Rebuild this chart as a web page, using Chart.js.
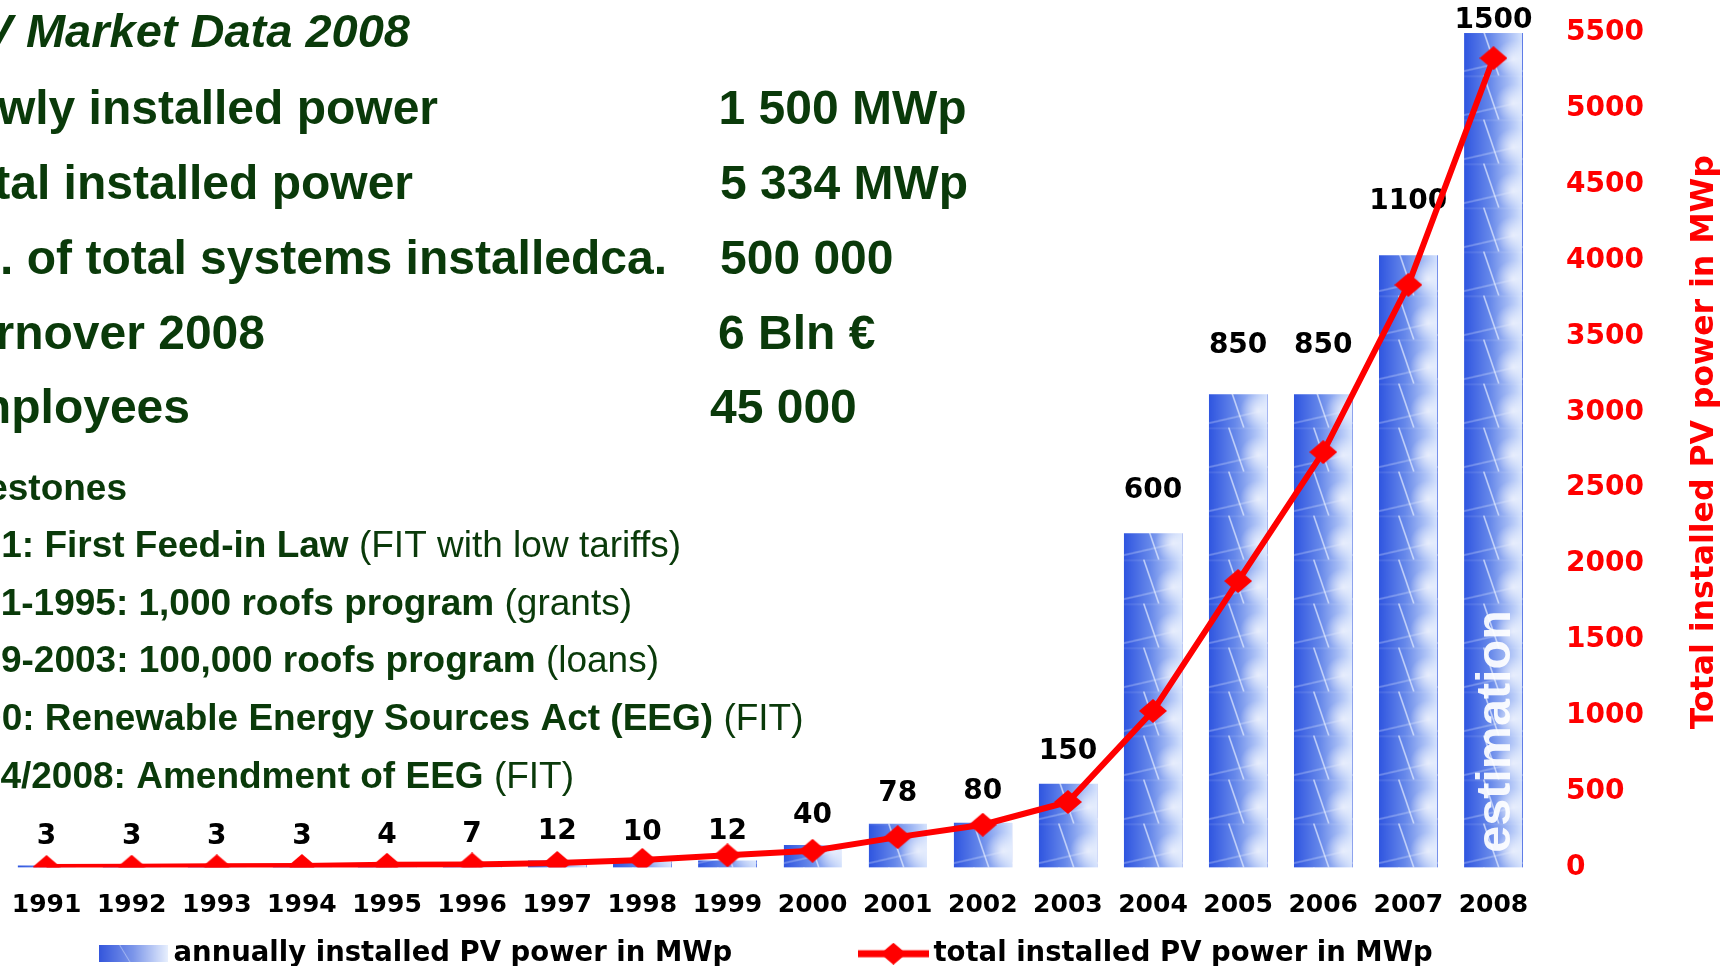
<!DOCTYPE html>
<html>
<head>
<meta charset="utf-8">
<script src="https://cdn.jsdelivr.net/npm/chart.js@4.4.1/dist/chart.umd.min.js"></script>
<style>
html,body{margin:0;padding:0;background:#ffffff;overflow:hidden}
#wrap{position:relative;width:1724px;height:966px}
canvas{display:block}
</style>
</head>
<body>
<div id="wrap"><canvas id="c" width="1724" height="966"></canvas></div>
<script>
// ---------------- data ----------------
const years = ['1991','1992','1993','1994','1995','1996','1997','1998','1999','2000','2001','2002','2003','2004','2005','2006','2007','2008'];
const annualInstalled = [3,3,3,3,4,7,12,10,12,40,78,80,150,600,850,850,1100,1500];
const totalInstalled = [3,5,8,10,18,20,30,50,80,110,200,282,432,1032,1888,2738,3840,5334];
const rightAxisTicks = [0,500,1000,1500,2000,2500,3000,3500,4000,4500,5000,5500];
const annualLabel = 'annually installed PV power in MWp';
const totalLabel = 'total installed PV power in MWp';
const rightAxisTitle = 'Total installed PV power in MWp';
const estimationText = 'estimation';

const marketTitle = 'PV Market Data 2008';
const marketLabels = ['Newly installed power','Total installed power','No. of total systems installedca.','Turnover 2008','Employees'];
const marketValues = ['1 500 MWp','5 334 MWp','500 000','6 Bln \u20AC','45 000'];
const milestoneTitle = 'Milestones';
const milestoneBold = ['1991: First Feed-in Law','1991-1995: 1,000 roofs program','1999-2003: 100,000 roofs program','2000: Renewable Energy Sources Act (EEG)','2004/2008: Amendment of EEG'];
const milestoneNote = ['(FIT with low tariffs)','(grants)','(loans)','(FIT)','(FIT)'];

// ---------------- layout / style ----------------
const GREEN = '#0a3a0a';
const RED = '#ff0000';
const TXT = {
  title: {endX: 410, y: 47},
  rowEnd: [438, 413, 667, 265, 190],
  rowY: [124, 198.5, 273.5, 348.5, 423],
  valX: [718.5, 720, 720, 718, 710],
  msTitle: {endX: 127, y: 500},
  msEnd: [681, 632, 659, 803.5, 574],
  msY: [557, 615, 672, 730, 788]
};
const BAR_W = 58;

function makeTile(w, h) {
  const c = document.createElement('canvas'); c.width = w; c.height = h;
  const g = c.getContext('2d');
  const grd = g.createLinearGradient(0, 0, w, 0);
  grd.addColorStop(0, '#2f55e0');
  grd.addColorStop(0.45, '#6688ea');
  grd.addColorStop(1, '#d4e2fd');
  g.fillStyle = grd; g.fillRect(0, 0, w, h);
  const r = g.createRadialGradient(w * 0.85, h * 0.62, 1, w * 0.85, h * 0.62, w * 0.32);
  r.addColorStop(0, 'rgba(255,255,255,0.65)'); r.addColorStop(1, 'rgba(255,255,255,0)');
  g.fillStyle = r; g.fillRect(0, 0, w, h);
  g.strokeStyle = 'rgba(232,240,255,0.7)'; g.lineWidth = 1.6;
  g.beginPath(); g.moveTo(w * 0.34, 0); g.lineTo(w * 0.6, h); g.stroke();
  g.strokeStyle = 'rgba(232,240,255,0.45)'; g.lineWidth = 1.2;
  g.beginPath(); g.moveTo(0, h * 0.9); g.lineTo(w, h * 0.6); g.stroke();
  g.fillStyle = 'rgba(255,255,255,0.12)'; g.fillRect(0, 0, w, 1.5);
  return c;
}
function makeDiamond(w, h) {
  const c = document.createElement('canvas'); c.width = w; c.height = h;
  const g = c.getContext('2d');
  g.fillStyle = RED;
  g.beginPath(); g.moveTo(w / 2, 0); g.lineTo(w, h / 2); g.lineTo(w / 2, h); g.lineTo(0, h / 2); g.closePath(); g.fill();
  return c;
}
function makeLegendLine(w, h) {
  const c = document.createElement('canvas'); c.width = w; c.height = h;
  const g = c.getContext('2d');
  g.strokeStyle = RED; g.lineWidth = 7;
  g.beginPath(); g.moveTo(0, h / 2); g.lineTo(w, h / 2); g.stroke();
  g.fillStyle = RED;
  const dw = 26;
  g.beginPath(); g.moveTo(w / 2, 0); g.lineTo(w / 2 + dw / 2, h / 2); g.lineTo(w / 2, h); g.lineTo(w / 2 - dw / 2, h / 2); g.closePath(); g.fill();
  return c;
}
function makeLegendBox(w, h) {
  const c = document.createElement('canvas'); c.width = w; c.height = h;
  const g = c.getContext('2d');
  const grd = g.createLinearGradient(0, 0, w, 0);
  grd.addColorStop(0, '#3456dc'); grd.addColorStop(0.5, '#7d97ea'); grd.addColorStop(1, '#e8f0fe');
  g.fillStyle = grd; g.fillRect(0, 0, w, h);
  g.strokeStyle = 'rgba(232,240,255,0.5)'; g.lineWidth = 1;
  g.beginPath(); g.moveTo(w * 0.3, 0); g.lineTo(w * 0.45, h); g.stroke();
  return c;
}
const tile = makeTile(BAR_W, 44);
const diamond = makeDiamond(28, 24);
const legendLine = makeLegendLine(71, 22);
const legendBox = makeLegendBox(69, 17);

// ---------------- overlay plugin ----------------
const overlay = {
  id: 'overlay',
  afterDatasetDraw(chart, args) {
    if (args.index !== 0) return;
    const ctx = chart.ctx;
    const meta = chart.getDatasetMeta(0);
    ctx.save();
    ctx.font = 'bold 28px "DejaVu Sans"';
    ctx.fillStyle = '#000';
    ctx.textAlign = 'center';
    ctx.textBaseline = 'middle';
    meta.data.forEach((bar, i) => {
      const v = annualInstalled[i];
      const y = Math.max(bar.y - (29 + 0.023 * v), chart.chartArea.top - 12);
      ctx.fillText(String(v), bar.x, y);
    });
    ctx.restore();
  },
  afterDatasetsDraw(chart) {
    const ctx = chart.ctx;
    const meta = chart.getDatasetMeta(0);
    const last = meta.data[meta.data.length - 1];
    ctx.save();
    ctx.translate(last.x + 17, chart.chartArea.bottom - 136);
    ctx.rotate(-Math.PI / 2);
    ctx.font = 'bold 48.5px "Liberation Sans"';
    ctx.fillStyle = 'rgba(255,255,255,0.92)';
    ctx.textAlign = 'center';
    ctx.textBaseline = 'alphabetic';
    ctx.fillText(estimationText, 0, 0);
    ctx.restore();
  },
  afterDraw(chart) {
    const ctx = chart.ctx;
    ctx.save();
    ctx.fillStyle = GREEN;
    ctx.textBaseline = 'alphabetic';
    ctx.textAlign = 'right';
    ctx.font = 'italic bold 47px "Liberation Sans"';
    ctx.fillText(marketTitle, TXT.title.endX, TXT.title.y);
    ctx.font = 'bold 48px "Liberation Sans"';
    marketLabels.forEach((t, i) => {
      ctx.textAlign = 'right';
      ctx.fillText(t, TXT.rowEnd[i], TXT.rowY[i]);
      ctx.textAlign = 'left';
      ctx.fillText(marketValues[i], TXT.valX[i], TXT.rowY[i]);
    });
    ctx.textAlign = 'right';
    ctx.font = 'bold 37px "Liberation Sans"';
    ctx.fillText(milestoneTitle, TXT.msTitle.endX, TXT.msTitle.y);
    milestoneBold.forEach((b, i) => {
      ctx.font = '37px "Liberation Sans"';
      const note = ' ' + milestoneNote[i];
      const w = ctx.measureText(note).width;
      ctx.fillText(note, TXT.msEnd[i], TXT.msY[i]);
      ctx.font = 'bold 37px "Liberation Sans"';
      ctx.fillText(b, TXT.msEnd[i] - w, TXT.msY[i]);
    });
    // right axis title (reads bottom to top)
    const y1 = chart.scales.y1;
    ctx.translate(1713, (y1.top + y1.bottom) / 2 - 8);
    ctx.rotate(-Math.PI / 2);
    ctx.textAlign = 'center';
    ctx.fillStyle = RED;
    ctx.font = 'bold 31.5px "DejaVu Sans"';
    ctx.fillText(rightAxisTitle, 0, 0);
    ctx.restore();
  }
};

// ---------------- chart ----------------
const NBSP = '\u00A0';
new Chart(document.getElementById('c'), {
  data: {
    labels: years,
    datasets: [
      {
        type: 'bar',
        label: annualLabel,
        data: annualInstalled,
        yAxisID: 'y',
        order: 1,
        barThickness: BAR_W,
        borderWidth: 0,
        backgroundColor: (c) => {
          const chart = c.chart;
          if (c.type !== 'data' || !chart.chartArea) return '#5a78e4';
          const x = chart.scales.x.getPixelForValue(c.dataIndex);
          const p = chart.ctx.createPattern(tile, 'repeat');
          p.setTransform(new DOMMatrix([1, 0, 0, 1, Math.round(x - BAR_W / 2), chart.chartArea.bottom]));
          return p;
        }
      },
      {
        type: 'line',
        label: totalLabel,
        data: totalInstalled,
        yAxisID: 'y1',
        order: 0,
        borderColor: RED,
        backgroundColor: RED,
        borderWidth: 6,
        tension: 0,
        pointStyle: diamond,
        pointRadius: 12,
        pointBorderWidth: 0
      }
    ]
  },
  options: {
    responsive: false,
    animation: false,
    devicePixelRatio: 1,
    layout: { autoPadding: false, padding: { left: 4, top: 33, right: 0, bottom: -11.5 } },
    plugins: {
      tooltip: { enabled: false },
      legend: {
        position: 'bottom',
        fullSize: false,
        align: 'center',
        labels: {
          usePointStyle: true,
          pointStyleWidth: 52.5,
          padding: 20,
          color: '#000',
          font: { family: 'DejaVu Sans', weight: 'bold', size: 27.5 },
          generateLabels: (chart) => chart.data.datasets.map((ds, i) => ({
            text: ds.label + (i === 0 ? NBSP.repeat(12) : ''),
            pointStyle: i === 0 ? legendBox : legendLine,
            fillStyle: 'rgba(0,0,0,0)',
            strokeStyle: 'rgba(0,0,0,0)',
            lineWidth: 0,
            hidden: false,
            datasetIndex: i,
            fontColor: '#000'
          }))
        }
      }
    },
    scales: {
      x: {
        grid: { display: false, drawTicks: false },
        border: { display: false },
        ticks: {
          color: '#000',
          font: { family: 'DejaVu Sans', weight: 'bold', size: 25, lineHeight: 2.24 },
          padding: 10,
          maxRotation: 0,
          autoSkip: false
        },
        afterFit(s) { s.height = 52.5; s.paddingLeft = 0; s.paddingRight = 0; }
      },
      y: { display: false, min: 0, max: 1500 },
      y1: {
        position: 'right',
        min: 0,
        max: 5500,
        grid: { display: false, drawTicks: false },
        border: { display: false },
        afterBuildTicks(s) { s.ticks = rightAxisTicks.map(v => ({ value: v })); },
        ticks: {
          color: RED,
          font: { family: 'DejaVu Sans', weight: 'bold', size: 28 },
          padding: 30,
          autoSkip: false,
          callback: (v) => String(v)
        },
        afterFit(s) { s.width = 188; s.paddingTop = 0; s.paddingBottom = 0; }
      }
    }
  },
  plugins: [overlay]
});
</script>
</body>
</html>
